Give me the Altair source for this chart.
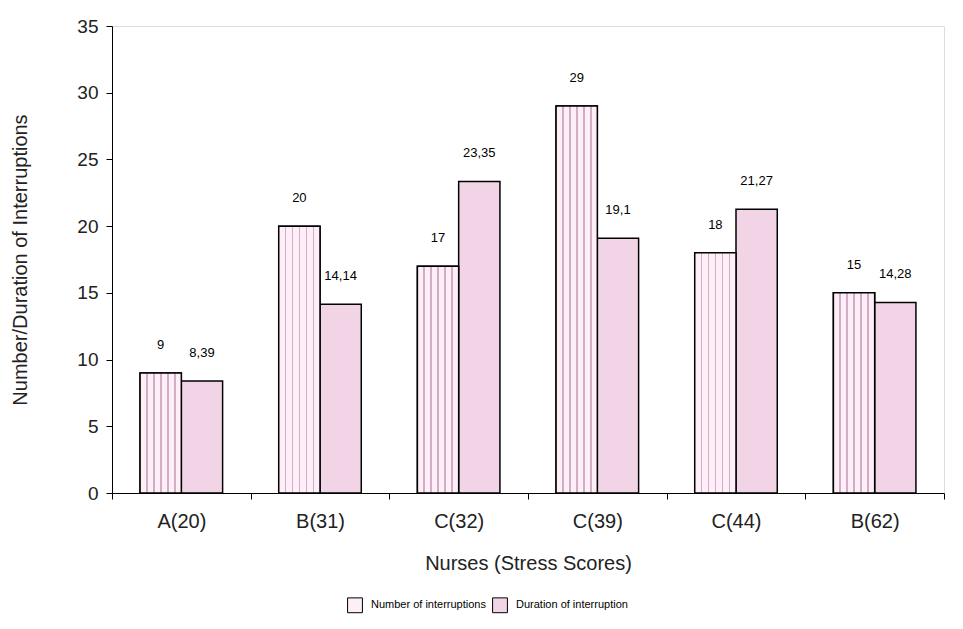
import altair as alt
import pandas as pd

categories = ["A(20)", "B(31)", "C(32)", "C(39)", "C(44)", "B(62)"]
series_names = ["Number of interruptions", "Duration of interruption"]
number_vals = [9, 20, 17, 29, 18, 15]
duration_vals = [8.39, 14.14, 23.35, 19.1, 21.27, 14.28]
number_labels = ["9", "20", "17", "29", "18", "15"]
duration_labels = ["8,39", "14,14", "23,35", "19,1", "21,27", "14,28"]
y_ticks = [0, 5, 10, 15, 20, 25, 30, 35]

rows = []
for c, v, l in zip(categories, number_vals, number_labels):
    rows.append({"cat": c, "series": series_names[0], "value": v, "label": l})
for c, v, l in zip(categories, duration_vals, duration_labels):
    rows.append({"cat": c, "series": series_names[1], "value": v, "label": l})
df = pd.DataFrame(rows)

FONT = "Liberation Sans"
light = "#fdeef7"
line = "#d2aec6"

# vertical stripe gradient
stops = []
edges = [0.14, 0.31, 0.48, 0.65, 0.82]
stops.append(alt.GradientStop(offset=0, color=light))
for e in edges:
    stops.append(alt.GradientStop(offset=e, color=light))
    stops.append(alt.GradientStop(offset=e, color=line))
    stops.append(alt.GradientStop(offset=e + 0.045, color=line))
    stops.append(alt.GradientStop(offset=e + 0.045, color=light))
stops.append(alt.GradientStop(offset=1, color=light))
stripe = alt.Gradient(gradient="linear", stops=stops, x1=0, x2=1, y1=0, y2=0)

x_enc = alt.X("cat:N", sort=categories, title="Nurses (Stress Scores)",
              scale=alt.Scale(paddingInner=0, paddingOuter=0),
              axis=alt.Axis(labelAngle=0, tickBand="extent", tickSize=6,
                            labelFontSize=20, labelColor="#222", labelFont=FONT,
                            labelPadding=12, titleFontSize=20, titleFont=FONT,
                            titleFontWeight="normal", titleColor="#222",
                            titlePadding=22, domainColor="#000", tickColor="#000",
                            grid=False))
xo_enc = alt.XOffset("series:N", sort=series_names,
                     scale=alt.Scale(paddingInner=0, paddingOuter=0.68))
y_enc = alt.Y("value:Q", title="Number/Duration of Interruptions",
              scale=alt.Scale(domain=[0, 35], nice=False),
              axis=alt.Axis(values=y_ticks, tickSize=6, labelFontSize=19,
                            labelColor="#222", labelFont=FONT, labelPadding=8,
                            titleFontSize=20, titleFont=FONT, titleFontWeight="normal",
                            titleColor="#222", titlePadding=46, domainColor="#000",
                            tickColor="#000", grid=False))

bars = alt.Chart(df).mark_bar(stroke="#000", strokeWidth=1.5).encode(
    x=x_enc, xOffset=xo_enc, y=y_enc,
    color=alt.Color("series:N", sort=series_names,
                    scale=alt.Scale(domain=series_names, range=[light, "#f2d4e7"]),
                    legend=alt.Legend(title=None, orient="none", direction="horizontal",
                                      legendX=235, legendY=571, symbolType="square",
                                      symbolSize=220, symbolStrokeColor="#000",
                                      symbolStrokeWidth=1, labelFontSize=11,
                                      labelFont=FONT, labelColor="#000",
                                      labelOffset=8, columnPadding=4))
)

stripes = alt.Chart(df).transform_filter(
    alt.datum.series == series_names[0]
).mark_bar(fill=stripe, stroke="#000", strokeWidth=1.5).encode(
    x=alt.X("cat:N", sort=categories), xOffset=alt.XOffset("series:N", sort=series_names),
    y="value:Q"
)

labels = alt.Chart(df).mark_text(baseline="bottom", dy=-21, fontSize=13, font=FONT,
                                 color="#000").encode(
    x=alt.X("cat:N", sort=categories), xOffset=alt.XOffset("series:N", sort=series_names),
    y="value:Q", text="label:N"
)

chart = alt.layer(bars, stripes, labels).properties(
    width=832, height=467,
    padding={"left": 2, "top": 9, "right": 5, "bottom": 5}
).configure_view(stroke=None).configure(background="white")

chart.save("out.html", embed_options={"renderer": "svg", "actions": False})
